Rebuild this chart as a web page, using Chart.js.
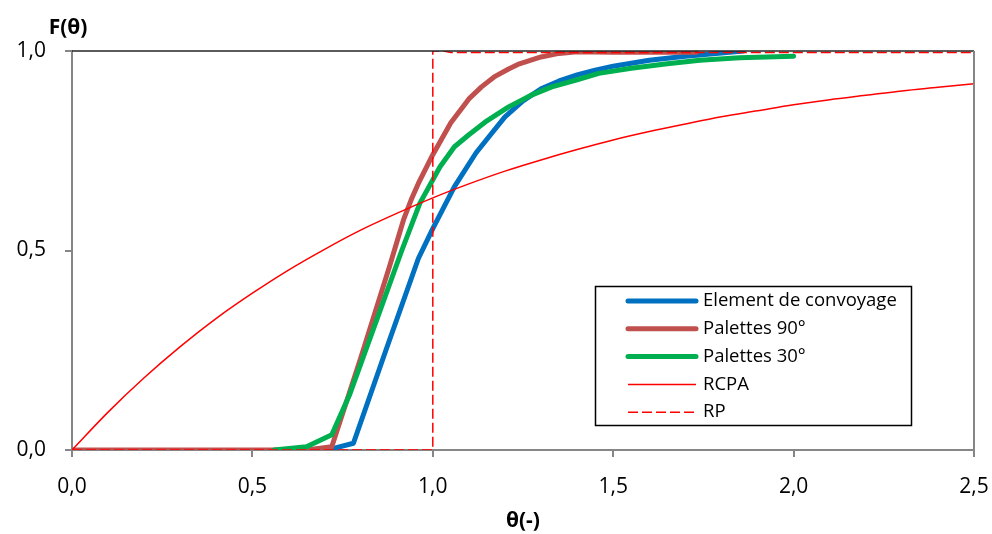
<!DOCTYPE html>
<html>
<head>
<meta charset="utf-8">
<script src="https://cdn.jsdelivr.net/npm/chart.js@4.4.1/dist/chart.umd.min.js"></script>
<style>
  body { margin: 0; background: #fff; }
  #wrap { width: 992px; height: 534px; position: relative; }
</style>
</head>
<body>
<div id="wrap"><canvas id="chart"></canvas></div>
<script>
// Values.
const thetaElement = [0.63, 0.72, 0.78, 0.87, 0.96, 1.00, 1.06, 1.12, 1.16, 1.20, 1.25, 1.30, 1.35, 1.40, 1.45, 1.50, 1.60, 1.70, 1.80, 1.86];
const fElement = [0, 0.003, 0.017, 0.25, 0.48, 0.555, 0.66, 0.745, 0.79, 0.835, 0.875, 0.905, 0.925, 0.94, 0.952, 0.962, 0.977, 0.987, 0.995, 1.0];

const thetaP90 = [0, 0.65, 0.72, 0.80, 0.88, 0.92, 0.94, 0.96, 1.00, 1.05, 1.10, 1.135, 1.17, 1.21, 1.24, 1.30, 1.35, 1.40, 1.50, 1.73];
const fP90 = [0, 0, 0.008, 0.23, 0.46, 0.58, 0.627, 0.668, 0.74, 0.82, 0.88, 0.91, 0.935, 0.955, 0.968, 0.985, 0.994, 0.998, 0.997, 0.997];

const thetaP30 = [0.56, 0.65, 0.72, 0.77, 0.85, 0.914, 0.964, 1.02, 1.06, 1.10, 1.15, 1.21, 1.27, 1.33, 1.40, 1.46, 1.55, 1.65, 1.74, 1.85, 2.0];
const fP30 = [0, 0.008, 0.038, 0.14, 0.34, 0.50, 0.618, 0.71, 0.76, 0.79, 0.825, 0.86, 0.888, 0.91, 0.928, 0.944, 0.957, 0.968, 0.977, 0.983, 0.987];

const thetaRCPA = [0, 0.1, 0.2, 0.3, 0.4, 0.5, 0.6, 0.7, 0.8, 0.9, 1.0, 1.1, 1.2, 1.3, 1.4, 1.5, 1.6, 1.7, 1.8, 1.9, 2.0, 2.1, 2.2, 2.3, 2.4, 2.5];
const fRCPA = [0, 0.095, 0.181, 0.259, 0.330, 0.393, 0.451, 0.503, 0.551, 0.593, 0.632, 0.667, 0.699, 0.727, 0.753, 0.777, 0.798, 0.817, 0.835, 0.850, 0.865, 0.878, 0.889, 0.900, 0.909, 0.918];

const thetaRP = [0, 0.96, 1.0, 1.0, 1.03, 1.05, 2.5];
const fRP = [0, 0, 0, 1.0, 1.0, 0.996, 0.996];

const xTicks = [0, 0.5, 1.0, 1.5, 2.0, 2.5];
const yTicks = [0, 0.5, 1.0];

function points(xs, ys) {
    return xs.map((x, i) => ({ x: x, y: ys[i] }));
}

function comma(v) {
    return v.toFixed(1).replace(".", ",");
}

Chart.defaults.font.family = "'Open Sans', sans-serif";
Chart.defaults.color = "#000";

// Frame on top and right of the plot area, the y title and the boxed legend.
const extras = {
    id: "extras",
    afterDraw(chart) {
        const ctx = chart.ctx;
        const a = chart.chartArea;
        ctx.save();
        ctx.lineWidth = 1.5;
        ctx.strokeStyle = "#262626";
        ctx.beginPath();
        ctx.moveTo(a.left, a.top);
        ctx.lineTo(a.right, a.top);
        ctx.stroke();
        ctx.strokeStyle = "#868686";
        ctx.lineWidth = 2;
        ctx.beginPath();
        ctx.moveTo(a.right, a.top);
        ctx.lineTo(a.right, a.bottom);
        ctx.stroke();

        ctx.fillStyle = "#000";
        ctx.font = "bold 21px 'Open Sans', sans-serif";
        ctx.textAlign = "center";
        ctx.textBaseline = "middle";
        ctx.fillText("F(θ)", a.left - 4, a.top - 23);

        // legend
        const bx = 595.5, by = 286.5, bw = 316, bh = 139;
        ctx.strokeStyle = "#000";
        ctx.lineWidth = 1.5;
        ctx.strokeRect(bx, by, bw, bh);
        ctx.font = "18.5px 'Open Sans', sans-serif";
        ctx.textAlign = "left";
        chart.data.datasets.forEach((ds, i) => {
            const y = 301 + i * 27.8;
            ctx.strokeStyle = ds.borderColor;
            ctx.lineWidth = ds.borderWidth;
            ctx.lineCap = ds.borderWidth > 2 ? "round" : "butt";
            ctx.setLineDash(ds.borderDash || []);
            ctx.beginPath();
            ctx.moveTo(628, y);
            ctx.lineTo(696, y);
            ctx.stroke();
            ctx.setLineDash([]);
            ctx.fillText(ds.label, 703, y);
        });
        ctx.restore();
    }
};

const ctx = document.getElementById("chart").getContext("2d");
new Chart(ctx, {
    type: "scatter",
    data: {
        datasets: [
            {
                label: "Element de convoyage",
                data: points(thetaElement, fElement),
                borderColor: "#0070C0",
                borderWidth: 5,
                order: 5
            },
            {
                label: "Palettes 90°",
                data: points(thetaP90, fP90),
                borderColor: "#C0504D",
                borderWidth: 5,
                order: 4
            },
            {
                label: "Palettes 30°",
                data: points(thetaP30, fP30),
                borderColor: "#00B050",
                borderWidth: 5,
                order: 3
            },
            {
                label: "RCPA",
                data: points(thetaRCPA, fRCPA),
                borderColor: "#FF0000",
                borderWidth: 1.5,
                cubicInterpolationMode: "monotone",
                order: 2
            },
            {
                label: "RP",
                data: points(thetaRP, fRP),
                borderColor: "#FF0000",
                borderWidth: 1.5,
                borderDash: [10, 4],
                borderCapStyle: "butt",
                order: 1
            }
        ].map(ds => Object.assign({
            showLine: true,
            pointRadius: 0,
            fill: false,
            tension: 0,
            borderCapStyle: "round",
            borderJoinStyle: "round"
        }, ds))
    },
    options: {
        responsive: true,
        maintainAspectRatio: false,
        animation: false,
        layout: { padding: { top: 51, right: 18, left: 0, bottom: 0 } },
        scales: {
            x: {
                type: "linear",
                min: 0,
                max: 2.5,
                afterBuildTicks: s => { s.ticks = xTicks.map(v => ({ value: v })); },
                afterFit: s => {
                    s.height = 84;
                    s.paddingLeft = 0;
                    s.paddingRight = 0;
                },
                ticks: {
                    callback: v => comma(v),
                    font: { size: 21 },
                    padding: 17,
                    maxRotation: 0
                },
                grid: {
                    drawOnChartArea: false,
                    drawTicks: true,
                    tickLength: 7,
                    color: "#868686",
                    lineWidth: 2
                },
                border: { color: "#868686", width: 2 },
                title: {
                    display: true,
                    text: "θ(-)",
                    font: { size: 21, weight: "bold" },
                    padding: { top: 0, bottom: 0 }
                }
            },
            y: {
                type: "linear",
                min: 0,
                max: 1,
                afterBuildTicks: s => { s.ticks = yTicks.map(v => ({ value: v })); },
                afterFit: s => {
                    s.width = 72;
                    s.paddingTop = 0;
                    s.paddingBottom = 0;
                },
                ticks: {
                    callback: v => comma(v),
                    font: { size: 21 },
                    padding: 19
                },
                grid: {
                    drawOnChartArea: false,
                    drawTicks: true,
                    tickLength: 7,
                    color: "#868686",
                    lineWidth: 2
                },
                border: { color: "#868686", width: 2 }
            }
        },
        plugins: {
            legend: { display: false },
            tooltip: { enabled: false }
        }
    },
    plugins: [extras]
});
</script>
</body>
</html>
